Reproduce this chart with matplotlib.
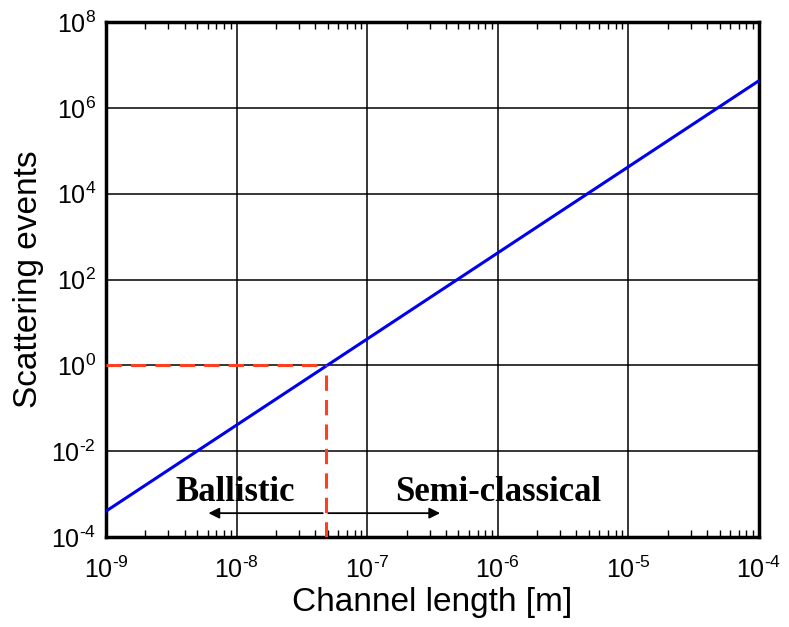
import numpy as np
import matplotlib
matplotlib.use('Agg')
import matplotlib.pyplot as plt
from matplotlib.ticker import LogLocator, NullLocator, FuncFormatter, NullFormatter

plt.rcParams['font.family'] = ['Liberation Sans', 'DejaVu Sans']
plt.rcParams['mathtext.fontset'] = 'custom'
plt.rcParams['mathtext.rm'] = 'Liberation Sans'
plt.rcParams['mathtext.it'] = 'Liberation Sans'
plt.rcParams['mathtext.default'] = 'regular'

# channel length [m] vs number of scattering events
lengths = [1e-9, 1e-4]
events = [4e-4, 4.3e6]
mfp = 4.8e-8  # crossing point, events = 1

arrow_left = 5.8e-9
arrow_right = 3.8e-7
arrow_y = 3.6e-4
label_y = 1.1e-3


def pow_label(v, pos):
    e = int(round(np.log10(v)))
    s = str(abs(e))
    if e < 0:
        s = '\u2010' + s
    return '$10^{' + s + '}$'


fig = plt.figure(figsize=(7.89, 6.27), dpi=100)
ax = fig.add_axes([0.1343, 0.1435, 0.8277, 0.8214])

ax.plot(lengths, events, color='#0000ee', lw=2.2, zorder=4)
ax.plot([1e-9, mfp], [1, 1], color='#ff4020', lw=2.2, ls=(0, (5, 3)), zorder=5)
ax.plot([mfp, mfp], [1e-4, 1], color='#ff4020', lw=2.2, ls=(0, (5, 3)), zorder=5)

ax.set_xscale('log')
ax.set_yscale('log')
ax.set_xlim(1e-9, 1e-4)
ax.set_ylim(1e-4, 1e8)

ax.xaxis.set_major_locator(LogLocator(base=10, numticks=10))
ax.xaxis.set_minor_locator(LogLocator(base=10, subs=np.arange(2, 10), numticks=20))
ax.xaxis.set_minor_formatter(NullFormatter())
ax.yaxis.set_major_locator(LogLocator(base=100, numticks=10))
ax.yaxis.set_minor_locator(NullLocator())
ax.xaxis.set_major_formatter(FuncFormatter(pow_label))
ax.yaxis.set_major_formatter(FuncFormatter(pow_label))

ax.grid(True, which='major', color='black', lw=1.1)
ax.tick_params(which='major', axis='x', direction='in', length=0, labelsize=18, pad=14, top=True)
ax.tick_params(which='minor', axis='x', direction='in', length=5, width=1, top=True)
ax.tick_params(axis='y', length=0, labelsize=18, pad=7)
for s in ax.spines.values():
    s.set_linewidth(2.5)

ax.set_xlabel('Channel length [m]', fontsize=24, labelpad=3)
ax.set_ylabel('Scattering events', fontsize=24, labelpad=5)

ax.annotate('', xy=(arrow_left, arrow_y), xytext=(mfp, arrow_y),
            arrowprops=dict(arrowstyle='-|>', color='black', lw=1.3, mutation_scale=16))
ax.annotate('', xy=(arrow_right, arrow_y), xytext=(mfp, arrow_y),
            arrowprops=dict(arrowstyle='-|>', color='black', lw=1.3, mutation_scale=16))
ax.text(9.7e-9, label_y, 'Ballistic', family='Liberation Serif', fontweight='bold',
        fontsize=25, ha='center', va='center')
ax.text(1.0e-6, label_y, 'Semi-classical', family='Liberation Serif', fontweight='bold',
        fontsize=25, ha='center', va='center')

fig.savefig('out.png', dpi=100)
